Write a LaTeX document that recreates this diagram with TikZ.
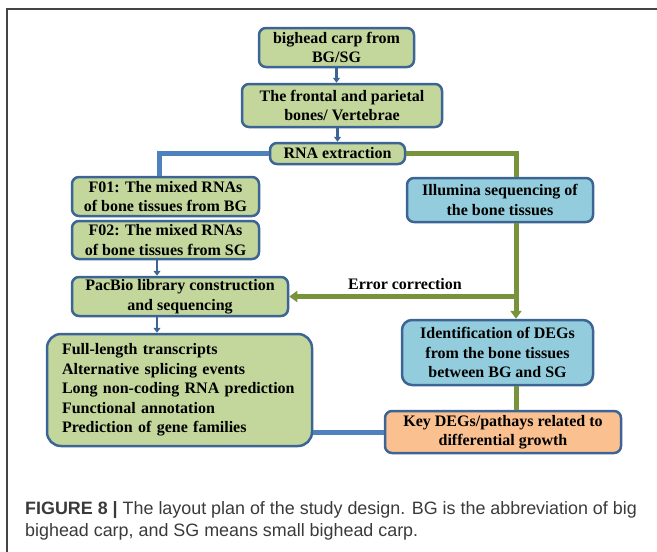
\documentclass[tikz,border=0pt]{standalone}
\usepackage{fontspec}
\setmainfont{Liberation Serif}
\setsansfont{Liberation Sans}
\usetikzlibrary{arrows.meta,calc}
\definecolor{boxborder}{HTML}{3C6595}
\definecolor{greenfill}{HTML}{C3D69B}
\definecolor{bluefill}{HTML}{93CDDD}
\definecolor{orangefill}{HTML}{FAC090}
\definecolor{blueconn}{HTML}{4F81BD}
\definecolor{greenconn}{HTML}{77933C}
\definecolor{framecol}{HTML}{444444}
\definecolor{captioncol}{HTML}{3A3A3A}
\begin{document}
\begin{tikzpicture}[x=1pt,y=-1pt,
  box/.style={draw=boxborder, line width=2.5pt, rounded corners=7pt, inner sep=0pt, align=center,
    font=\fontsize{16}{19.5}\selectfont\bfseries},
  gbox/.style={box, fill=greenfill},
  bbox/.style={box, fill=bluefill},
  obox/.style={box, fill=orangefill},
  thinarrow/.style={draw=boxborder, line width=2.2pt, -{Triangle[width=7pt,length=5pt]}},
  blueline/.style={draw=blueconn, line width=5pt},
  greenline/.style={draw=greenconn, line width=5pt},
  greenarrow/.style={greenline, -{Triangle[width=11pt,length=8pt]}},
  captext/.style={anchor=base west, inner sep=0pt, text=captioncol, font=\sffamily\fontsize{17.9}{22}\selectfont}
]
\useasboundingbox (0,0) rectangle (657,552);
\draw[framecol, line width=1.5pt] (7,552) -- (7,9) -- (657,9);

% nodes
\node[gbox, minimum width=155pt, minimum height=39pt] (b1) at (336.5,47.5) {bighead carp from\\BG/SG};
\node[gbox, minimum width=200pt, minimum height=43pt] (b2) at (342,105.5) {The frontal and parietal\\bones/ Vertebrae};
\node[gbox, minimum width=135pt, minimum height=21pt] (b3) at (337.5,153.5) {RNA extraction};
\node[gbox, minimum width=187pt, minimum height=39pt] (f01) at (165.5,196.5) {F01: The mixed RNAs\\of bone tissues from BG};
\node[gbox, minimum width=187pt, minimum height=38pt] (f02) at (165.5,240) {F02: The mixed RNAs\\of bone tissues from SG};
\node[gbox, minimum width=216pt, minimum height=39pt] (pac) at (180,296.5) {PacBio library construction\\and sequencing};
\node[gbox, rounded corners=14pt, minimum height=112pt, text width=235pt, inner xsep=15pt, align=left] (res) at (179.5,390)
  {Full-length transcripts\\Alternative splicing events\\Long non-coding RNA prediction\\Functional annotation\\Prediction of gene families};
\node[bbox, minimum width=186pt, minimum height=44pt] (ill) at (500,200) {Illumina sequencing of\\the bone tissues};
\node[bbox, rounded corners=10pt, minimum width=191pt, minimum height=65pt] (ide) at (497.5,352.5) {Identification of DEGs\\from the bone tissues\\between BG and SG};
\node[obox, minimum width=236pt, minimum height=42pt] (key) at (503,432) {Key DEGs/pathays related to\\differential growth};
\node[inner sep=0pt, font=\fontsize{16}{19.5}\selectfont\bfseries] (err) at (405,284) {Error correction};

% connectors
\draw[thinarrow] (b1.south) -- (b1.south |- b2.north);
\draw[thinarrow] (b3.north |- b2.south) -- (b3.north);
\draw[blueline] (b3.west) -| ([xshift=-6.5pt]f01.north);
\coordinate (gx) at ([xshift=16pt]ill.south);
\draw[greenline] (b3.east) -| (gx |- ill.north);
\draw[greenarrow] (gx) -- (gx |- ide.north);
\draw[greenarrow] (pac.east -| gx) -- (pac.east);
\draw[greenline] (gx |- ide.south) -- (gx |- key.north);
\coordinate (ax) at ([xshift=-8.5pt]f02.south);
\draw[thinarrow] (ax) -- (ax |- pac.north);
\draw[thinarrow] (ax |- pac.south) -- (ax |- res.north);
\draw[blueline] (key.west) -- (key.west -| res.east);

% caption
\node[captext] (cap1) at (25,514) {\textbf{FIGURE 8 |} The layout plan of the study design. BG is the abbreviation of big};
\node[captext] (cap2) at (25,536) {bighead carp, and SG means small bighead carp.};
\end{tikzpicture}
\end{document}
